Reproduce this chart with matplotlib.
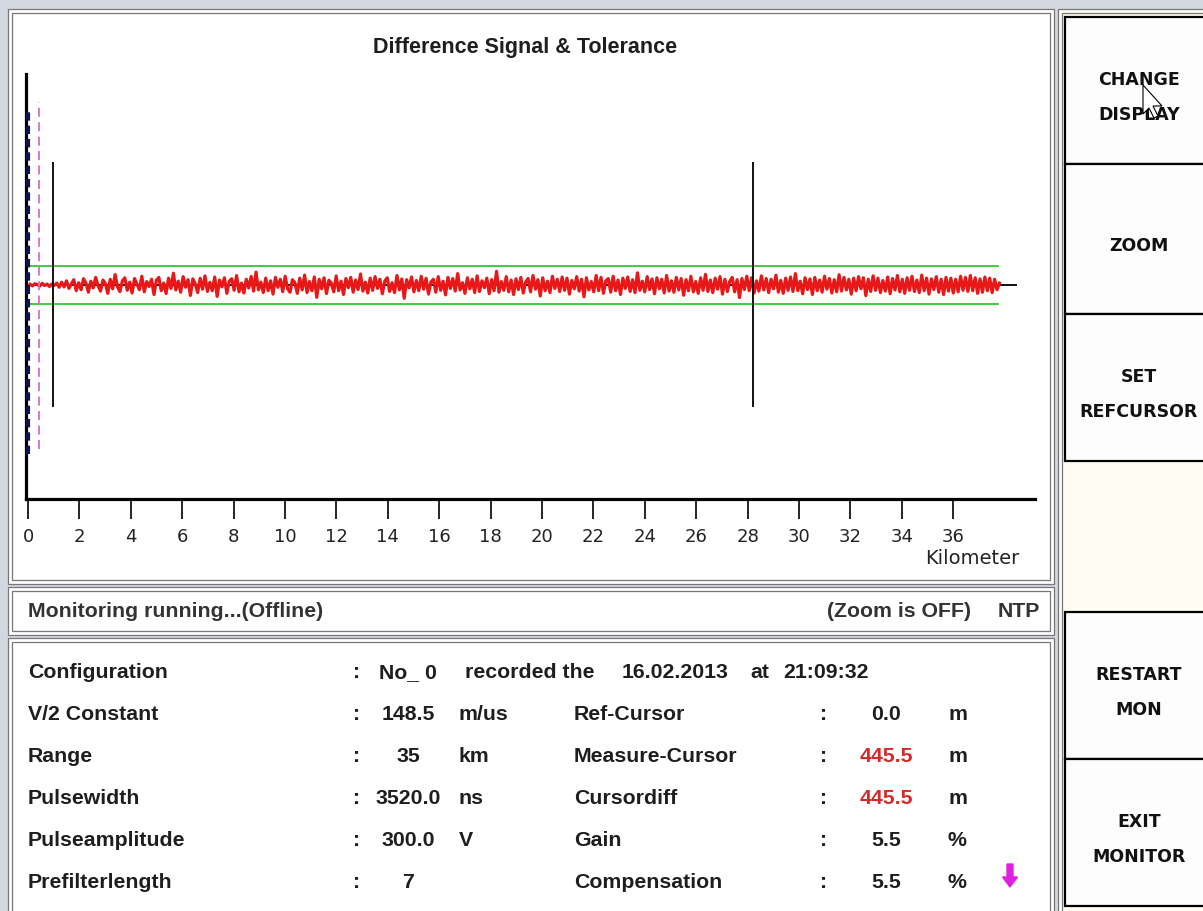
import numpy as np
import matplotlib
matplotlib.use("Agg")
import matplotlib.pyplot as plt
from matplotlib.patches import Rectangle, Polygon

# --- data ---------------------------------------------------------------
tick_km = [0, 2, 4, 6, 8, 10, 12, 14, 16, 18, 20, 22, 24, 26, 28, 30, 32, 34, 36]
tol_upper = 1.0
tol_lower = -1.0
sig_start_km = 0.08
sig_end_km = 37.8
ref_cursor_km = 0.0
measure_cursor_km = 0.4455
marker_a_km = 0.97
marker_b_km = 28.2

# difference signal, in units of the tolerance band
diff_signal = [
    0.04, -0.05, 0.07, 0.02, -0.06, 0.09, -0.03, 0.05, -0.08, 0.06, -0.02, 0.1, -0.12, 0.15, -0.1, 0.22, -0.18, 0.05, 0.28, -0.3,
    0.12, -0.25, 0.33, 0.1, -0.38, 0.2, -0.15, 0.4, -0.05, -0.32, 0.26, 0.08, -0.44, 0.3, -0.2, 0.55, -0.1, -0.35, 0.22, 0.38,
    -0.28, 0.15, -0.42, 0.34, 0.05, -0.25, 0.46, -0.36, 0.18, -0.08, 0.3, -0.5, 0.25, 0.4, -0.3, 0.1, -0.45, 0.36, -0.18, 0.62,
    -0.26, 0.2, -0.38, 0.44, -0.12, 0.28, -0.55, 0.32, 0.06, -0.4, 0.35, -0.22, 0.48, -0.34, 0.14, -0.3, 0.42, -0.6, 0.26, -0.1,
    0.38, -0.44, 0.2, 0.33, -0.28, 0.5, -0.36, 0.1, -0.42, 0.3, -0.16, 0.45, -0.32, 0.68, -0.25, 0.15, -0.4, 0.36, -0.3, 0.22,
    -0.48, 0.4, -0.12, 0.3, -0.35, 0.46, -0.2, -0.38, 0.28, 0.12, -0.44, 0.36, -0.26, 0.52, -0.4, 0.18, -0.3, 0.42, -0.65, 0.3,
    -0.2, 0.38, -0.45, 0.25, 0.1, -0.36, 0.48, -0.3, 0.2, -0.5, 0.34, -0.14, 0.4, -0.38, 0.26, -0.24, 0.58, -0.32, 0.15, -0.42,
    0.36, -0.28, 0.44, -0.18, 0.3, -0.46, 0.2, 0.38, -0.34, 0.12, -0.4, 0.5, -0.26, 0.32, -0.7, 0.28, -0.15, 0.42, -0.36, 0.24,
    -0.3, 0.46, -0.22, 0.35, -0.48, 0.16, 0.3, -0.38, 0.44, -0.28, 0.2, -0.52, 0.4, -0.18, 0.34, -0.32, 0.6, -0.26, 0.12, -0.44,
    0.38, -0.2, 0.3, -0.4, 0.48, -0.34, 0.22, -0.14, 0.36, -0.46, 0.28, -0.3, 0.72, -0.38, 0.18, -0.28, 0.44, -0.36, 0.26, -0.5,
    0.32, -0.24, 0.4, -0.42, 0.16, 0.34, -0.36, 0.5, -0.22, 0.28, -0.58, 0.38, -0.3, 0.2, -0.4, 0.46, -0.18, 0.3, -0.34, 0.42,
    -0.28, 0.36, -0.48, 0.24, -0.2, 0.44, -0.32, 0.3, -0.62, 0.38, -0.26, 0.18, -0.36, 0.5, -0.3, 0.4, -0.44, 0.22, 0.34, -0.38,
    0.46, -0.3, 0.26, -0.5, 0.36, -0.18, 0.42, -0.34, 0.28, -0.4, 0.64, -0.28, 0.2, -0.36, 0.44, -0.24, 0.32, -0.46, 0.38, -0.2,
    0.3, -0.42, 0.5, -0.32, 0.22, -0.38, 0.4, -0.26, 0.34, -0.54, 0.28, -0.3, 0.46, -0.36, 0.18, -0.44, 0.38, -0.28, 0.56, -0.34,
    0.26, -0.4, 0.36, -0.22, 0.44, -0.48, 0.3, -0.34, 0.2, 0.4, -0.36, 0.28, -0.66, 0.34, -0.24, 0.46, -0.3, 0.38, -0.42, 0.22,
    -0.32, 0.48, -0.26, 0.34, -0.4, 0.3, -0.2, 0.52, -0.38, 0.24, -0.44, 0.36, -0.28, 0.42, -0.34, 0.6, -0.3, 0.2, -0.46, 0.38,
    -0.24, 0.32, -0.5, 0.4, -0.3, 0.26, -0.38, 0.46, -0.22, 0.34, -0.42, 0.28, -0.36, 0.54, -0.32, 0.4, -0.26, 0.3, -0.48, 0.36,
    -0.3, 0.44, -0.2, 0.38, -0.56, 0.3, -0.34, 0.48, -0.28, 0.36, -0.4, 0.24, -0.32, 0.42, -0.46, 0.34, -0.26, 0.5, -0.36, 0.3,
    -0.44, 0.38, -0.28, 0.46, -0.34, 0.26, -0.4, 0.52, -0.3, 0.36, -0.48, 0.32, -0.24, 0.44, -0.38, 0.3, -0.5, 0.4, -0.32, 0.36,
    -0.42, 0.3, -0.36, 0.46, -0.28, 0.4, -0.34, 0.5, -0.3, 0.38, -0.44, 0.32, -0.38, 0.42, -0.3, 0.36, -0.4, 0.3, -0.25, 0.1,
]

labels_left = ['Configuration', 'V/2 Constant', 'Range', 'Pulsewidth', 'Pulseamplitude', 'Prefilterlength']
values_left = ['No_ 0', '148.5', '35', '3520.0', '300.0', '7']
units_left = ['', 'm/us', 'km', 'ns', 'V', '']
labels_right = ['Ref-Cursor', 'Measure-Cursor', 'Cursordiff', 'Gain', 'Compensation']
values_right = ['0.0', '445.5', '445.5', '5.5', '5.5']
units_right = ['m', 'm', 'm', '%', '%']
red_values = ['445.5']
recorded_date = '16.02.2013'
recorded_time = '21:09:32'
buttons = [('CHANGE\n\nDISPLAY', 18, 165), ('ZOOM', 165, 315), ('SET\n\nREFCURSOR', 315, 462),
           ('RESTART\n\nMON', 613, 760), ('EXIT\n\nMONITOR', 760, 907)]

W, H = 1203, 912
BOLD = 'Liberation Sans'
TXT = '#1e1e1e'
FS = 15.3

fig = plt.figure(figsize=(W / 100, H / 100), dpi=100)
fig.patch.set_facecolor('#d3d8e0')

# background "window" drawn in pixel coordinates
bg = fig.add_axes([0, 0, 1, 1])
bg.set_xlim(0, W)
bg.set_ylim(H, 0)
bg.axis('off')


def frame(x0, y0, x1, y1, fill='white'):
    bg.add_patch(Rectangle((x0, y0), x1 - x0, y1 - y0, facecolor=fill, edgecolor='#777777', lw=0.9))
    bg.add_patch(Rectangle((x0 + 4, y0 + 4), x1 - x0 - 8, y1 - y0 - 8, facecolor=fill, edgecolor='#777777', lw=0.9))


frame(8, 10, 1054, 585)
frame(8, 588, 1054, 636)
frame(8, 639, 1054, 925)
frame(1058, 10, 1215, 925, fill='#fffdf3')

for text, y0, y1 in buttons:
    bg.add_patch(Rectangle((1065, y0), 160, y1 - y0, facecolor='#fdfdfd', edgecolor='black', lw=1.6))
    bg.text(1139, (y0 + y1) / 2 + 6, text, ha='center', va='center', fontsize=12.5,
            fontweight='bold', family='DejaVu Sans', color='#111111', linespacing=0.95)

# mouse pointer over the first button
bg.add_patch(Polygon([(1143, 86), (1143, 115), (1149, 109), (1154, 119), (1158, 117), (1153, 107), (1162, 107)],
                     closed=True, facecolor='white', edgecolor='black', lw=0.8, zorder=5))

bg.text(525, 47, 'Difference Signal & Tolerance', ha='center', va='center',
        fontsize=15.5, fontweight='bold', family=BOLD, color=TXT)
bg.text(972, 559, 'Kilometer', ha='center', va='center', fontsize=14, family='DejaVu Sans', color='#222222')

bg.text(28, 612, 'Monitoring running...(Offline)', ha='left', va='center', fontsize=FS, fontweight='bold', family=BOLD, color='#333333')
bg.text(971, 612, '(Zoom is OFF)', ha='right', va='center', fontsize=FS, fontweight='bold', family=BOLD, color='#333333')
bg.text(1040, 612, 'NTP', ha='right', va='center', fontsize=FS, fontweight='bold', family=BOLD, color='#333333')

row_y = [673, 715, 757, 799, 841, 883]
for i, lab in enumerate(labels_left):
    y = row_y[i]
    bg.text(28, y, lab, ha='left', va='center', fontsize=FS, fontweight='bold', family=BOLD, color=TXT)
    bg.text(357, y, ':', ha='center', va='center', fontsize=FS, fontweight='bold', family=BOLD, color=TXT)
    bg.text(408, y, values_left[i], ha='center', va='center', fontsize=FS, fontweight='bold', family=BOLD, color=TXT)
    if units_left[i]:
        bg.text(459, y, units_left[i], ha='left', va='center', fontsize=FS, fontweight='bold', family=BOLD, color=TXT)

bg.text(465, row_y[0], 'recorded the', ha='left', va='center', fontsize=FS, fontweight='bold', family=BOLD, color=TXT)
bg.text(622, row_y[0], recorded_date, ha='left', va='center', fontsize=FS, fontweight='bold', family=BOLD, color=TXT)
bg.text(750, row_y[0], 'at', ha='left', va='center', fontsize=FS, fontweight='bold', family=BOLD, color=TXT)
bg.text(783, row_y[0], recorded_time, ha='left', va='center', fontsize=FS, fontweight='bold', family=BOLD, color=TXT)

for i, lab in enumerate(labels_right):
    y = row_y[i + 1]
    col = '#d42a2a' if values_right[i] in red_values else TXT
    bg.text(574, y, lab, ha='left', va='center', fontsize=FS, fontweight='bold', family=BOLD, color=TXT)
    bg.text(824, y, ':', ha='center', va='center', fontsize=FS, fontweight='bold', family=BOLD, color=TXT)
    bg.text(886, y, values_right[i], ha='center', va='center', fontsize=FS, fontweight='bold', family=BOLD, color=col)
    bg.text(948, y, units_right[i], ha='left', va='center', fontsize=FS, fontweight='bold', family=BOLD, color=TXT)

bg.arrow(1010, 865, 0, 23, width=6, head_width=15, head_length=10, color='#e020e0', length_includes_head=True)

# --- the signal plot ----------------------------------------------------
px_per_km = 25.7
x0_px, x1_px, ytop_px, ybot_px = 26, 1035, 75, 500
ax = fig.add_axes([x0_px / W, 1 - ybot_px / H, (x1_px - x0_px) / W, (ybot_px - ytop_px) / H])
ax.patch.set_alpha(0)
ax.set_xlim((x0_px - 28) / px_per_km, (x1_px - 28) / px_per_km)
ax.set_ylim(-(ybot_px - 286) / 19, (286 - ytop_px) / 19)

for s in ['top', 'right']:
    ax.spines[s].set_visible(False)
ax.spines['left'].set_linewidth(2.3)
ax.spines['bottom'].set_linewidth(2.3)
ax.set_yticks([])
ax.set_xticks(tick_km)
ax.set_xticklabels([str(t) for t in tick_km])
ax.tick_params(axis='x', direction='out', length=14.5, width=1.2, pad=6, labelsize=13, labelcolor='#222222')

x_sig = np.linspace(sig_start_km, sig_end_km, len(diff_signal))
ax.hlines([tol_upper, tol_lower], 0, sig_end_km, color='#2ecc2e', lw=1.3, zorder=2)
ax.hlines(0, 0, 38.5, color='black', lw=1.3, zorder=2)
ax.plot(x_sig, diff_signal, color='#e81818', lw=2.3, zorder=3)

ax.vlines(ref_cursor_km, -8.9, 9.26, color='#10104a', lw=3, linestyles=(0, (2, 1.2)), zorder=4)
ax.vlines(measure_cursor_km, -8.63, 9.63, color='#d070d0', lw=1.3, linestyles=(0, (5, 3)), zorder=4)
ax.vlines([marker_a_km, marker_b_km], -6.42, 6.47, color='black', lw=1.3, zorder=4)

plt.savefig('out.png', dpi=100)
